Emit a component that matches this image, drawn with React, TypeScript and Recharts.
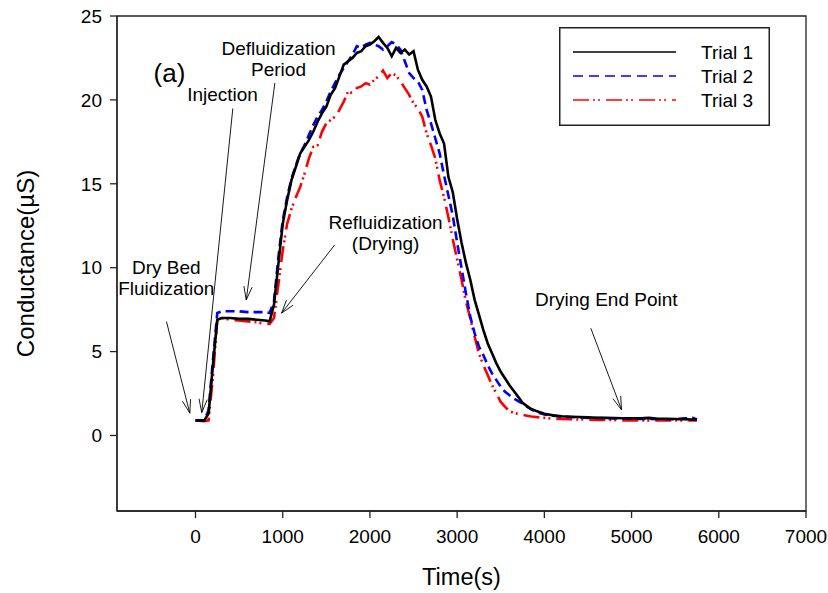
import React from "react";
import {
  Legend,
  Line,
  LineChart,
  ReferenceArea,
  ReferenceDot,
  ReferenceLine,
  XAxis,
  YAxis,
} from "recharts";

const FONT = "'Liberation Sans', Arial, Helvetica, sans-serif";

// time (s)
const times = [
  0, 100, 150, 200, 250, 300, 400, 500, 600, 700, 800, 850,
  900, 950, 1000, 1050, 1100, 1150, 1200, 1250, 1300, 1350, 1400,
  1450, 1500, 1550, 1600, 1650, 1700, 1750, 1800, 1850, 1900,
  1950, 2000, 2050, 2100, 2150, 2200, 2250, 2300, 2350, 2400,
  2450, 2500, 2550, 2600, 2650, 2700, 2750, 2800, 2850, 2900,
  2950, 3000, 3050, 3100, 3150, 3200, 3250, 3300, 3350, 3400,
  3450, 3500, 3550, 3600, 3650, 3700, 3750, 3800, 3850, 3900,
  4000, 4100, 4200, 4300, 4400, 4500, 4600, 4700, 4800, 4900,
  5000, 5100, 5200, 5300, 5400, 5500, 5600, 5700, 5750,
];

// conductance (uS)
const trial1 = [
  0.9, 0.9, 1.3, 4.2, 6.9, 7.0, 7.0, 6.95, 6.95, 6.9, 6.85, 6.8,
  7.8, 10.2, 12.6, 14.0, 15.2, 16.0, 16.8, 17.2, 17.6, 18.1, 18.7,
  19.2, 19.6, 20.3, 20.7, 21.4, 22.1, 22.3, 22.5, 22.8, 22.9,
  23.2, 23.3, 23.5, 23.75, 23.4, 23.1, 22.6, 23.1, 22.8, 23.0,
  22.7, 22.9, 21.8, 21.2, 20.8, 20.2, 18.8, 18.0, 17.4, 15.4,
  14.5, 12.9, 11.5, 10.3, 9.3, 8.1, 7.2, 6.3, 5.5, 4.9,
  4.3, 3.8, 3.4, 3.0, 2.65, 2.3, 1.95, 1.75, 1.58, 1.48,
  1.3, 1.2, 1.15, 1.12, 1.1, 1.08, 1.06, 1.05, 1.04, 1.03,
  1.03, 1.02, 1.05, 1.0, 1.0, 0.98, 0.97, 0.95, 0.95,
];

const trial2 = [
  0.9, 0.9, 1.5, 4.5, 7.3, 7.4, 7.4, 7.4, 7.35, 7.35, 7.35, 7.3,
  8.0, 10.6, 12.8, 14.2, 15.3, 16.1, 16.8, 17.3, 17.9, 18.5, 19.0,
  19.4, 19.9, 20.5, 21.0, 21.5, 21.9, 22.3, 22.7, 23.2, 23.1,
  23.3, 23.4, 23.3, 23.2, 23.0, 23.2, 23.45, 23.3, 23.0, 22.3,
  21.6, 21.3, 21.1, 20.6, 19.4, 18.6, 17.7, 16.8, 15.5, 14.3,
  13.1, 11.5, 10.0, 8.5, 7.1, 6.1, 5.3, 4.8, 4.2, 3.7,
  3.3, 2.9, 2.6, 2.4, 2.2, 2.05, 1.9, 1.72, 1.55, 1.42,
  1.25, 1.18, 1.12, 1.1, 1.08, 1.05, 1.04, 1.03, 1.02, 1.0,
  1.0, 0.98, 0.98, 0.97, 0.97, 0.97, 1.02, 1.05, 0.95,
];

const trial3 = [
  0.9, 0.85, 0.9, 3.5, 6.9, 7.0, 6.9, 6.85, 6.8, 6.75, 6.65, 6.65,
  7.0, 9.0, 11.0, 12.6, 13.5, 14.2, 14.8, 15.6, 16.5, 17.2, 17.3,
  18.1, 18.6, 18.8, 19.0, 19.4, 19.9, 20.5, 20.4, 20.7, 20.8,
  21.0, 20.9, 21.2, 21.4, 21.75, 21.3, 21.6, 21.45, 21.1, 20.7,
  20.3, 19.8, 19.5, 19.0, 18.0, 17.3, 16.5, 15.2, 14.2, 13.0,
  11.7, 10.5, 9.3, 8.0, 7.0, 5.9, 4.9, 4.2, 3.6, 3.0,
  2.5, 2.0, 1.7, 1.45, 1.35, 1.28, 1.23, 1.18, 1.13, 1.1,
  1.05, 1.0, 0.98, 0.97, 0.95, 0.95, 0.93, 0.92, 0.92, 0.9,
  0.9, 0.9, 0.9, 0.9, 0.9, 0.9, 0.9, 0.9, 0.9,
];

const xTicks = [0, 1000, 2000, 3000, 4000, 5000, 6000, 7000];
const yTicks = [0, 5, 10, 15, 20, 25];

const seriesNames = ["Trial 1", "Trial 2", "Trial 3"];

// text notes, centre of block in data units
const noteX = [-298, 310, 952, 2180, -335, 4710];
const noteY = [21.65, 20.35, 22.45, 12.1, 9.4, 8.1];
const noteText = [
  ["(a)"],
  ["Injection"],
  ["Defluidization", "Period"],
  ["Refluidization", "(Drying)"],
  ["Dry Bed", "Fluidization"],
  ["Drying End Point"],
];

// arrows: tail -> head
const arrowFrom = [
  { x: -333, y: 6.79 },
  { x: 428, y: 19.49 },
  { x: 910, y: 21.01 },
  { x: 1595, y: 11.35 },
  { x: 4533, y: 6.39 },
];
const arrowTo = [
  { x: -65, y: 1.33 },
  { x: 72, y: 1.37 },
  { x: 582, y: 8.08 },
  { x: 987, y: 7.29 },
  { x: 4885, y: 1.53 },
];

const data = times.map((t, i) => ({
  time: t,
  trial1: trial1[i],
  trial2: trial2[i],
  trial3: trial3[i],
}));

const Arrow = (props: any) => {
  const { x1, y1, x2, y2 } = props;
  if ([x1, y1, x2, y2].some((v) => typeof v !== "number")) return null;
  const ang = Math.atan2(y2 - y1, x2 - x1);
  const len = 14;
  const spread = 0.3;
  const ax = x2 - len * Math.cos(ang - spread);
  const ay = y2 - len * Math.sin(ang - spread);
  const bx = x2 - len * Math.cos(ang + spread);
  const by = y2 - len * Math.sin(ang + spread);
  return (
    <g>
      <line x1={x1} y1={y1} x2={x2} y2={y2} stroke="#000" strokeWidth={0.9} />
      <polyline
        points={`${ax},${ay} ${x2},${y2} ${bx},${by}`}
        fill="none"
        stroke="#000"
        strokeWidth={0.9}
      />
    </g>
  );
};

const makeNote = (lines: string[], size: number) => (props: any) => {
  const { cx, cy } = props;
  if (typeof cx !== "number" || typeof cy !== "number") return null;
  const lh = 21;
  const top = cy - ((lines.length - 1) * lh) / 2;
  return (
    <g>
      {lines.map((s, i) => (
        <text
          key={s}
          x={cx}
          y={top + i * lh + size * 0.36}
          textAnchor="middle"
          fontSize={size}
          fontFamily={FONT}
          fill="#000"
        >
          {s}
        </text>
      ))}
    </g>
  );
};

const LegendBox = () => {
  const styles = [
    { stroke: "#000", dash: undefined },
    { stroke: "#0000ff", dash: "10 6" },
    { stroke: "#ff0000", dash: "16 4 2 3 2 6" },
  ];
  return (
    <svg width={212} height={100} style={{ display: "block" }}>
      <rect x={0.75} y={0.75} width={209.5} height={97.5} fill="#fff" stroke="#222" strokeWidth={1.5} />
      {seriesNames.map((name, i) => (
        <g key={name}>
          <line
            x1={14}
            x2={117}
            y1={25 + i * 24}
            y2={25 + i * 24}
            stroke={styles[i].stroke}
            strokeWidth={1.5}
            strokeDasharray={styles[i].dash}
          />
          <text x={142} y={25 + i * 24 + 7} fontSize={19} fontFamily={FONT} fill="#000">
            {name}
          </text>
        </g>
      ))}
    </svg>
  );
};

const YTitle = (props: any) => {
  const vb = props.viewBox || { x: 0, y: 16, width: 117, height: 495 };
  const x = vb.x + 25;
  const y = vb.y + vb.height / 2;
  return (
    <text
      x={x}
      y={y}
      transform={`rotate(-90 ${x} ${y})`}
      textAnchor="middle"
      dy="0.36em"
      fontSize={24}
      fontFamily={FONT}
      fill="#000"
    >
      Conductance(µS)
    </text>
  );
};

const tickStyle = { fill: "#000", fontSize: 19, fontFamily: FONT };

export default function App() {
  return (
    <div
      style={{
        position: "absolute",
        left: 0,
        top: 0,
        width: 828,
        height: 593,
        background: "#fff",
        fontFamily: FONT,
      }}
    >
      <LineChart
        width={828}
        height={593}
        data={data}
        margin={{ top: 16, right: 22, left: 0, bottom: 0 }}
      >
        <XAxis
          dataKey="time"
          type="number"
          domain={[-900, 7000]}
          ticks={xTicks}
          tick={tickStyle}
          tickSize={7}
          tickMargin={12}
          height={82}
          axisLine={{ stroke: "#222", strokeWidth: 1.3 }}
          tickLine={{ stroke: "#222", strokeWidth: 1.3 }}
          label={{
            value: "Time(s)",
            position: "insideBottom",
            offset: 8,
            fontSize: 23.5,
            fontFamily: FONT,
            fill: "#000",
          }}
        />
        <YAxis
          type="number"
          domain={[-4.5, 25]}
          ticks={yTicks}
          tick={tickStyle}
          tickSize={7}
          tickMargin={8}
          width={117}
          axisLine={{ stroke: "#222", strokeWidth: 1.3 }}
          tickLine={{ stroke: "#222", strokeWidth: 1.3 }}
          label={<YTitle />}
        />
        <ReferenceArea
          x1={-900}
          x2={7000}
          y1={-4.5}
          y2={25}
          fill="none"
          fillOpacity={0}
          stroke="#222"
          strokeWidth={1.3}
        />
        {noteText.map((lines, i) => (
          <ReferenceDot
            key={`note-${i}`}
            x={noteX[i]}
            y={noteY[i]}
            r={0}
            shape={makeNote(lines, i === 0 ? 26 : 19)}
          />
        ))}
        {arrowFrom.map((p, i) => (
          <ReferenceLine
            key={`arrow-${i}`}
            segment={[p, arrowTo[i]]}
            shape={Arrow}
          />
        ))}
        <Legend
          layout="vertical"
          align="center"
          verticalAlign="middle"
          content={() => <LegendBox />}
          wrapperStyle={{ left: 559, top: 27, width: 212, height: 100 }}
        />
        <Line
          dataKey="trial3"
          name="Trial 3"
          stroke="#ff0000"
          strokeWidth={2.6}
          strokeDasharray="16 4 2 3 2 6"
          dot={false}
          isAnimationActive={false}
        />
        <Line
          dataKey="trial2"
          name="Trial 2"
          stroke="#0000ff"
          strokeWidth={2.6}
          strokeDasharray="9 5"
          dot={false}
          isAnimationActive={false}
        />
        <Line
          dataKey="trial1"
          name="Trial 1"
          stroke="#000"
          strokeWidth={2.6}
          dot={false}
          isAnimationActive={false}
        />
      </LineChart>
    </div>
  );
}
